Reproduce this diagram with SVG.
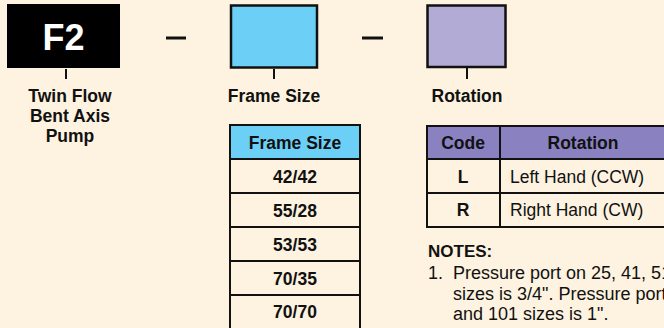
<svg xmlns="http://www.w3.org/2000/svg" width="664" height="328" viewBox="0 0 664 328">
<style>
.lbl{font-family:"Liberation Sans",Arial,sans-serif;font-weight:bold;font-size:17.5px;fill:#111;text-anchor:middle}
.cell{font-family:"Liberation Sans",Arial,sans-serif;font-size:17.5px;fill:#111}
.b{font-weight:bold;text-anchor:middle}
.box{stroke:#111;stroke-width:2.5}
.tick{stroke:#111;stroke-width:2}
.grid{stroke:#111;stroke-width:2;fill:none}
</style>
<rect width="664" height="328" fill="#fef3e0"/>
<g id="connectors">
<line class="tick" x1="66" y1="69" x2="66" y2="79"/>
<line class="tick" x1="274" y1="69" x2="274" y2="79"/>
<line class="tick" x1="467" y1="68" x2="467" y2="79"/>
<line x1="166" y1="38" x2="186" y2="38" stroke="#111" stroke-width="3"/>
<line x1="362" y1="38" x2="383" y2="38" stroke="#111" stroke-width="3"/>
</g>
<g id="node-f2">
<rect x="7" y="4" width="113" height="64" fill="#000"/>
<text x="63.5" y="50" font-family="Liberation Sans,Arial,sans-serif" font-weight="bold" font-size="36" fill="#fff" text-anchor="middle">F2</text>
<text class="lbl" x="70" y="102">Twin Flow</text>
<text class="lbl" x="70" y="122">Bent Axis</text>
<text class="lbl" x="70" y="142">Pump</text>
</g>
<g id="node-frame">
<rect class="box" x="231" y="5.5" width="86" height="62" fill="#6ccff6"/>
<text class="lbl" x="274" y="102">Frame Size</text>
</g>
<g id="node-rotation">
<rect class="box" x="427.5" y="5.5" width="78" height="61.5" fill="#b1abd6"/>
<text class="lbl" x="467" y="102">Rotation</text>
</g>
<g id="table-frame">
<rect x="230" y="125" width="130" height="34" fill="#6ccff6"/>
<rect class="grid" x="230" y="125" width="130" height="205"/>
<line class="grid" x1="230" y1="159" x2="360" y2="159"/>
<line class="grid" x1="230" y1="193" x2="360" y2="193"/>
<line class="grid" x1="230" y1="227" x2="360" y2="227"/>
<line class="grid" x1="230" y1="261" x2="360" y2="261"/>
<line class="grid" x1="230" y1="295" x2="360" y2="295"/>
<text class="cell b" x="295" y="149">Frame Size</text>
<text class="cell b" x="295" y="183">42/42</text>
<text class="cell b" x="295" y="217">55/28</text>
<text class="cell b" x="295" y="251">53/53</text>
<text class="cell b" x="295" y="285">70/35</text>
<text class="cell b" x="295" y="318">70/70</text>
</g>
<g id="table-rotation">
<rect x="427" y="126" width="240" height="33" fill="#8a81c0"/>
<rect class="grid" x="427" y="126" width="240" height="101"/>
<line class="grid" x1="427" y1="159" x2="667" y2="159"/>
<line class="grid" x1="427" y1="193" x2="667" y2="193"/>
<line class="grid" x1="500" y1="126" x2="500" y2="227"/>
<text class="cell b" x="463" y="149">Code</text>
<text class="cell b" x="583" y="149">Rotation</text>
<text class="cell b" x="463" y="183">L</text>
<text class="cell b" x="463" y="216">R</text>
<text class="cell" x="510" y="183">Left Hand (CCW)</text>
<text class="cell" x="510" y="216">Right Hand (CW)</text>
</g>
<g id="notes" font-family="Liberation Sans,Arial,sans-serif" font-size="18" fill="#111">
<text x="428" y="257" font-weight="bold" font-size="17">NOTES:</text>
<text x="428" y="279">1.</text>
<text x="453" y="279">Pressure port on 25, 41, 51</text>
<text x="453" y="299.5">sizes is 3/4". Pressure port</text>
<text x="453" y="320">and 101 sizes is 1".</text>
</g>
</svg>
